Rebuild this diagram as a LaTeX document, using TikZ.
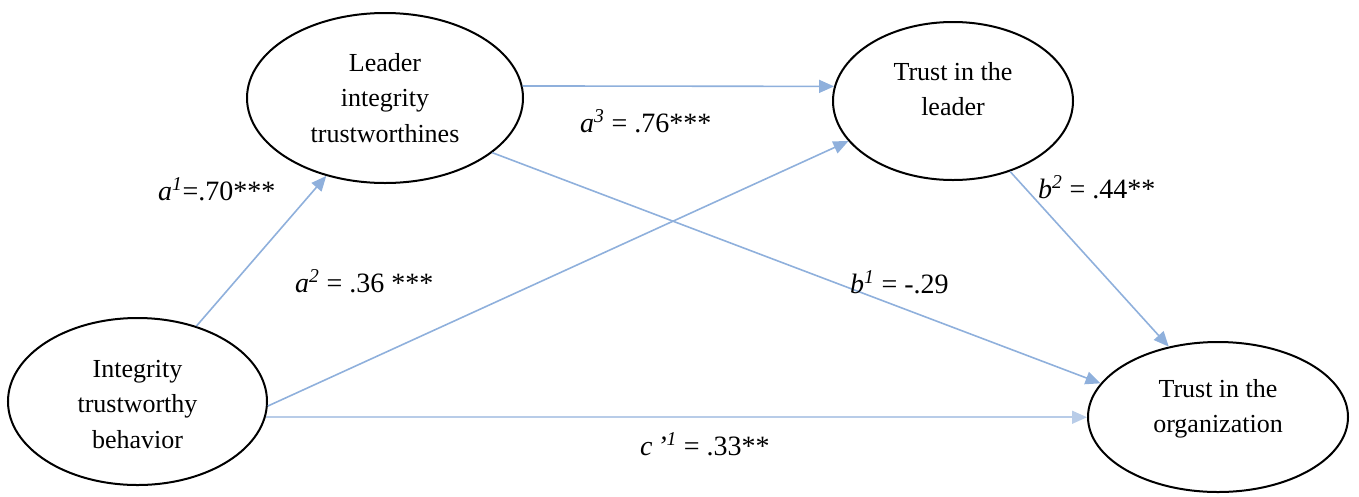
\documentclass[tikz,border=0pt]{standalone}
\usepackage{fontspec}
\setmainfont{Liberation Serif}
\usetikzlibrary{arrows.meta,shapes.geometric}
\definecolor{arr}{RGB}{143,176,220}
\definecolor{arrlight}{RGB}{184,204,232}
\newcommand\supi[1]{\textsuperscript{\itshape #1}}
\begin{document}
\begin{tikzpicture}[x=1pt,y=-1pt,
  latent/.style={ellipse,draw=black,line width=2pt,inner sep=0pt},
  nodetext/.style={align=center,inner sep=0pt,font=\fontsize{26}{35.5}\selectfont},
  pathline/.style={draw=arr,line width=1.6pt,-{Triangle[length=15pt,width=13pt]}},
  lbl/.style={anchor=base west,inner sep=0pt,font=\fontsize{28}{32}\selectfont}]
\useasboundingbox (0,0) rectangle (1359,496);
% latent variables
\node[latent,minimum width=259pt,minimum height=167pt] (int) at (137.5,401.5) {};
\node[latent,minimum width=276pt,minimum height=170pt] (ldr) at (385,98) {};
\node[latent,minimum width=240pt,minimum height=158pt] (tl) at (953,101) {};
\node[latent,minimum width=260pt,minimum height=150pt] (org) at (1218,417) {};
% texts
\node[nodetext] (intT) at ([yshift=-3pt]int.center) {Integrity\\trustworthy\\behavior};
\node[nodetext] (ldrT) at (ldr.center) {Leader\\integrity\\trustworthines};
\node[nodetext] (tlT) at ([yshift=12pt]tl.center) {Trust in the\\leader};
\node[nodetext] (orgT) at ([yshift=8pt]org.center) {Trust in the\\organization};
% paths
\draw[pathline] (int.52) -- (ldr.233);
\draw[pathline] (int.-2.4) -- (tl.201.3);
\draw[pathline,draw=arrlight] (int.-7.7) -- (int.-7.7 -| org.west);
\draw[pathline] (ldr.5) -- (tl.173);
\draw[pathline] (ldr.-27) -- (org.164.6);
\draw[pathline] (tl.-51.2) -- (org.125.5);
% labels
\node[lbl] (la1) at (158,200) {\textit{a}\supi{1}=.70***};
\node[lbl] (la2) at (295,292) {\textit{a}\supi{2} = .36 ***};
\node[lbl] (la3) at (580,132) {\textit{a}\supi{3} = .76***};
\node[lbl] (lb2) at (1038,198) {\textit{b}\supi{2} = .44**};
\node[lbl] (lb1) at (850,293) {\textit{b}\supi{1} = -.29};
\node[lbl] (lc) at (640,455) {\textit{c\,’}\supi{1} = .33**};
\end{tikzpicture}
\end{document}
